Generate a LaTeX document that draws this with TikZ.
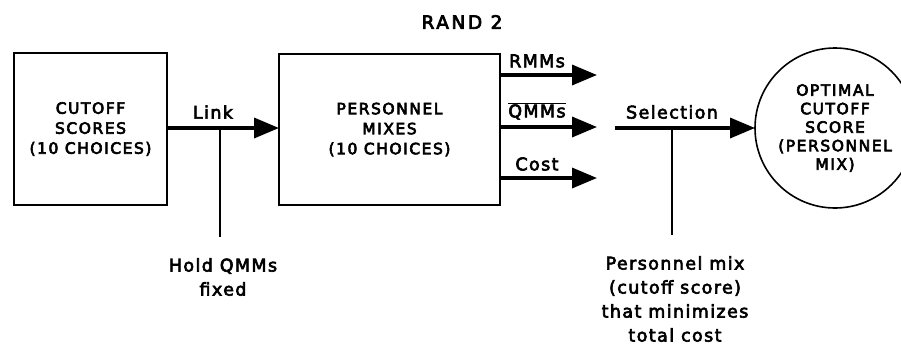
\documentclass[tikz,border=0pt]{standalone}
\usepackage{fontspec}
\setmainfont{DejaVu Sans}
\newfontfamily\capsfont[LetterSpace=10,FakeBold=4]{DejaVu Sans}
\newfontfamily\titlefont[LetterSpace=14,FakeBold=4]{DejaVu Sans}
\newfontfamily\lowfont[LetterSpace=8,FakeBold=3.5]{DejaVu Sans}
\usetikzlibrary{arrows.meta}
\begin{document}
\begin{tikzpicture}[x=1pt,y=-1pt,
  boxstyle/.style={draw, line width=1.8pt, inner sep=0pt, outer sep=0pt, align=center,
    font=\capsfont\fontsize{15.5}{20}\selectfont},
  capstext/.style={font=\capsfont\fontsize{15.5}{20}\selectfont, align=center, inner sep=0pt},
  lowtext/.style={font=\lowfont\fontsize{17.5}{24}\selectfont, align=center, inner sep=0pt},
  bigarrow/.style={line width=3.5pt, -{Triangle[length=25pt,width=20pt]}},
  thinline/.style={line width=1.8pt}]
\useasboundingbox (0,0) rectangle (901,346);
% title
\node[capstext, font=\titlefont\fontsize{18.5}{20}\selectfont] (title) at (462,22) {RAND 2};
% boxes
\node[boxstyle, minimum width=153pt, minimum height=152pt] (cutoff) at (90.5,129)
  {CUTOFF\\SCORES\\(10 CHOICES)};
\node[boxstyle, minimum width=221pt, minimum height=151pt] (mixes) at (389.5,129.5)
  {PERSONNEL\\MIXES\\(10 CHOICES)};
\node[draw, circle, line width=1.6pt, minimum size=160pt, inner sep=0pt, outer sep=0pt,
  align=center, font=\capsfont\fontsize{15.5}{18.5}\selectfont] (optimal) at (835,128)
  {OPTIMAL\\CUTOFF\\SCORE\\(PERSONNEL\\MIX)};
% link
\coordinate (linkjoin) at (220,128);
\coordinate (holdtop) at (220,237);
\draw[bigarrow] (cutoff.east |- linkjoin) -- (mixes.west |- linkjoin);
\draw[thinline] (linkjoin) -- (holdtop);
\node[lowtext] (linklabel) at (213,112) {Link};
\node[lowtext] (hold) at (223,277) {Hold QMMs\\fixed};
% outputs
\coordinate (rmmend) at (597,75);
\coordinate (qmmend) at (597,127);
\coordinate (costend) at (597,178);
\draw[bigarrow] (mixes.east |- rmmend) -- (rmmend);
\draw[bigarrow] (mixes.east |- qmmend) -- (qmmend);
\draw[bigarrow] (mixes.east |- costend) -- (costend);
\node[lowtext] (rmmlabel) at (537,61) {RMMs};
\node[lowtext] (qmmlabel) at (537,111) {$\overline{\hbox{\lowfont\fontsize{17.5}{24}\selectfont QMMs}}$};
\node[lowtext] (costlabel) at (537,164) {Cost};
% selection
\coordinate (selstart) at (615,128);
\coordinate (seljoin) at (672,128);
\coordinate (seltop) at (672,235);
\draw[bigarrow] (selstart) -- (optimal.west);
\draw[thinline] (seljoin) -- (seltop);
\node[lowtext] (sellabel) at (672,112) {Selection};
\node[lowtext] (mixtext) at (675,299) {Personnel mix\\(cutoff score)\\that minimizes\\total cost};
\end{tikzpicture}
\end{document}
